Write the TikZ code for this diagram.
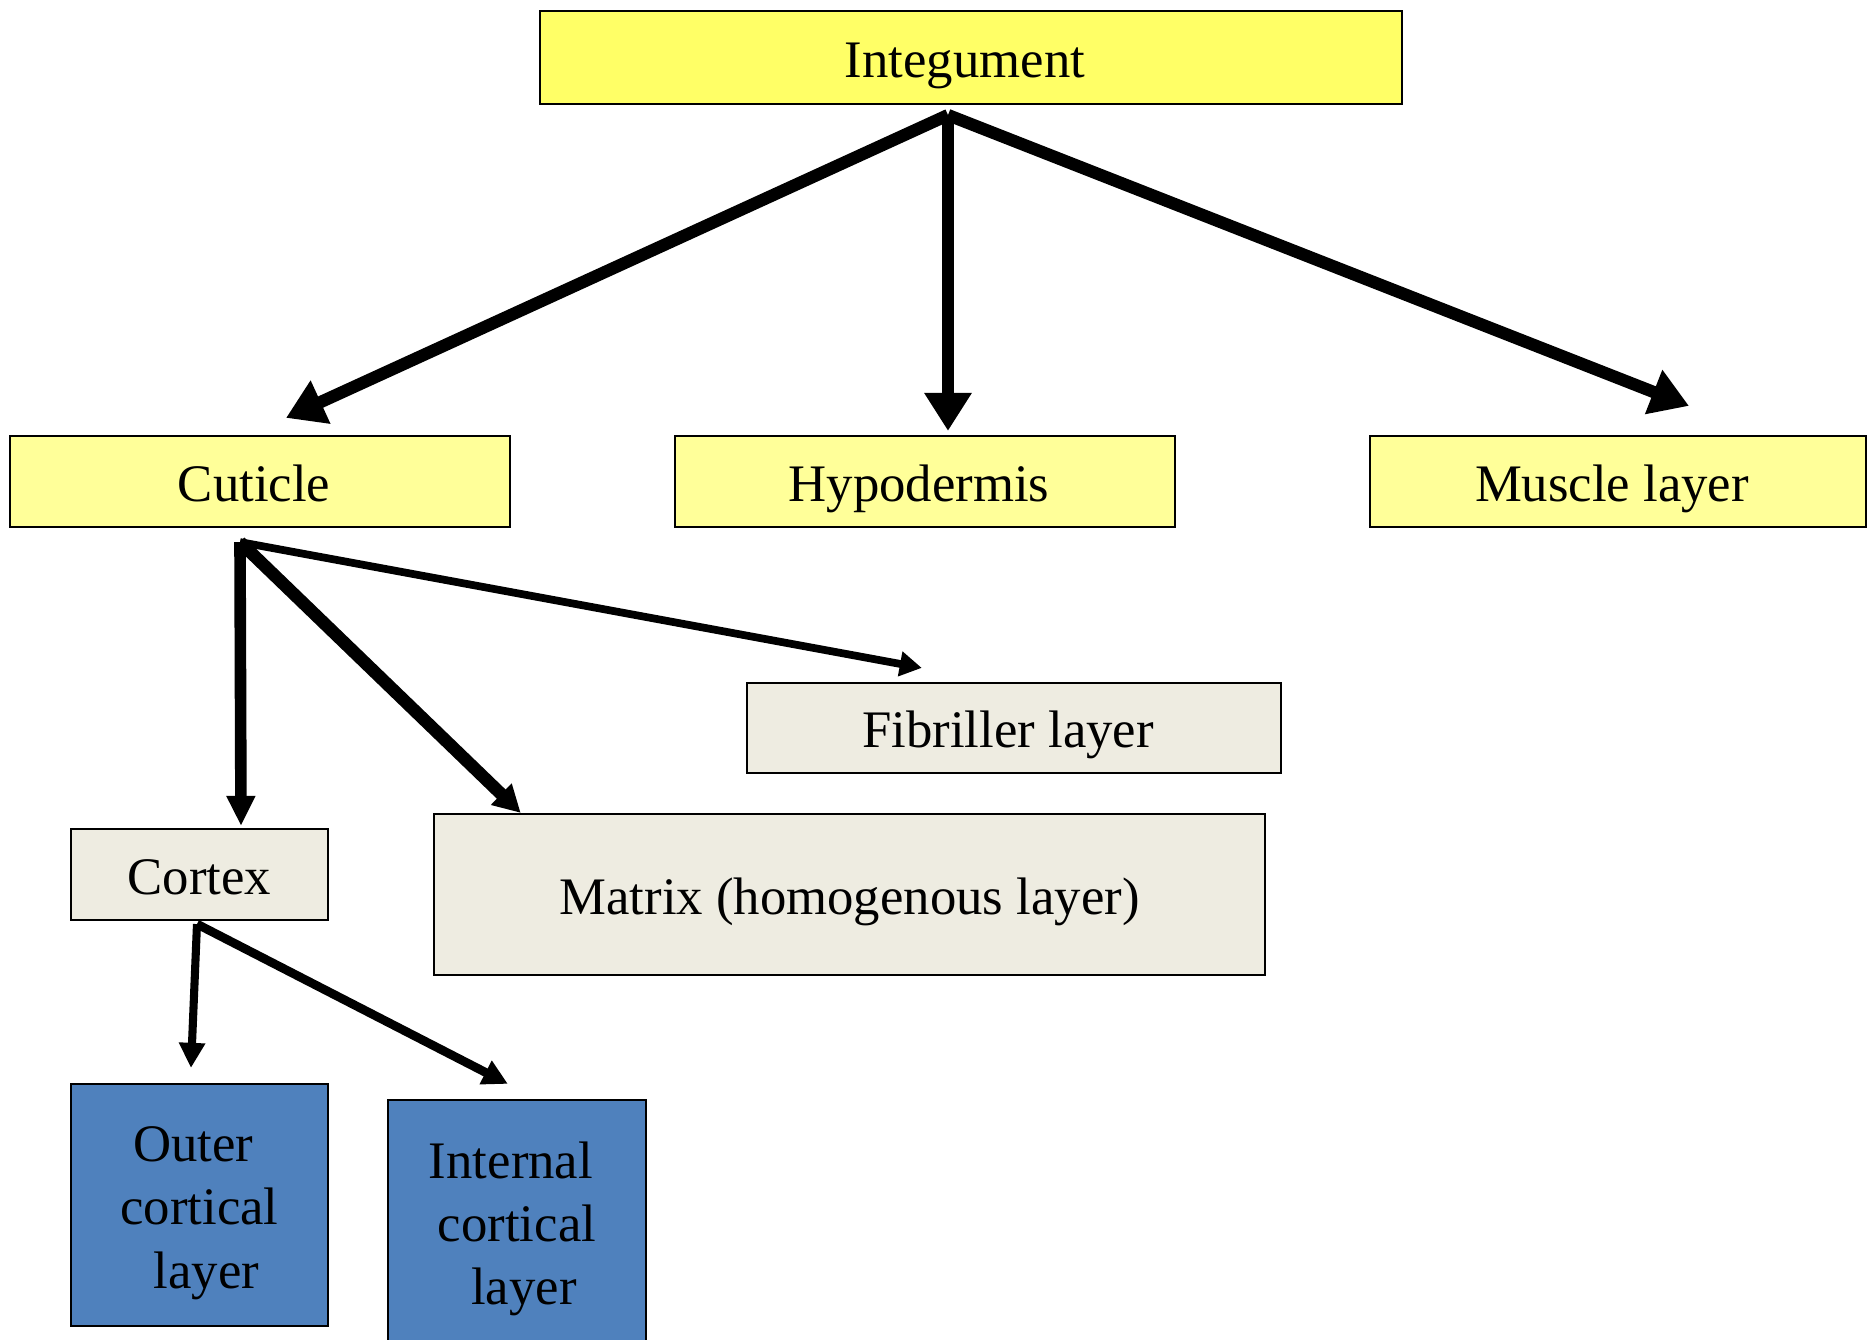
\documentclass[tikz,border=0pt]{standalone}
\usepackage{fontspec}
\setmainfont{Liberation Serif}
\usetikzlibrary{arrows.meta}

\definecolor{topyellow}{HTML}{FFFF66}
\definecolor{paleyellow}{HTML}{FFFF99}
\definecolor{beige}{HTML}{EEECE1}
\definecolor{steel}{HTML}{4F81BD}

\begin{document}
\begin{tikzpicture}[x=0.01cm,y=-0.01cm,
  box/.style={draw,line width=0.6pt,inner sep=0pt,font=\fontsize{15}{18}\selectfont},
  onebox/.style={box,text height=0.5cm,text depth=0.11cm},
  ybox/.style={onebox,fill=paleyellow,minimum height=0.91cm,execute at end node={\hspace*{0.12cm}}},
  gbox/.style={onebox,fill=beige},
  bbox/.style={box,align=center,fill=steel,minimum width=2.57cm},
  bigarrow/.style={line width=3.5pt,-{Triangle[length=0.38cm,width=0.45cm]}},
  smallarrow/.style={line width=2.3pt,-{Triangle[length=0.25cm,width=0.25cm]}}]
\clip (0,0) rectangle (1868,1340);

  \node[ybox,fill=topyellow,minimum width=8.62cm,minimum height=0.93cm] (int) at (971,57.5) {Integument};
 \node[ybox,minimum width=5cm] (cut) at (260,481.5) {Cuticle};
 \node[ybox,minimum width=5cm] (hyp) at (925,481.5) {Hypodermis};
 \node[ybox,minimum width=4.96cm] (mus) at (1618,481.5) {Muscle layer};
  \node[gbox,minimum width=5.34cm,minimum height=0.9cm,execute at end node={\hspace*{0.12cm}}] (fib) at (1014,728) {Fibriller layer};
  \node[gbox,minimum width=2.57cm,minimum height=0.91cm] (cor) at (199.5,874.5) {Cortex};
   \node[gbox,minimum width=8.31cm,minimum height=1.61cm] (mat) at (849.5,894.5) {Matrix (homogenous layer)};
 \node[bbox,minimum height=2.42cm] (out) at (199.5,1205) {\rule{0pt}{0.51cm}Outer\hspace*{0.12cm}\\cortical\\\hspace*{0.14cm}layer};
 \node[bbox,minimum width=2.58cm,minimum height=2.52cm] (inn) at (517,1226) {\rule{0pt}{0.42cm}Internal\hspace*{0.12cm}\\cortical\\\hspace*{0.14cm}layer};

 \coordinate (int-hub) at ([shift={(-23,10)}]int.south);
 \coordinate (cut-hub) at ([shift={(-20,14)}]cut.south);
 \coordinate (cor-hub) at ([shift={(-2.5,3)}]cor.south);

 \draw[bigarrow] (int-hub) -- ([shift={(26,-17)}]cut.north);
 \draw[bigarrow] (int-hub) -- ([shift={(23,-4)}]hyp.north);
 \draw[bigarrow] (int-hub) -- ([shift={(71,-29)}]mus.north);
\draw[line width=3.3pt,-{Triangle[length=0.3cm,width=0.27cm]}] (cut-hub) -- ([shift={(41.5,-2)}]cor.north);
\draw[line width=3.6pt,-{Triangle[length=0.27cm,width=0.28cm]}] (cut-hub) -- ([shift={(88,0)}]mat.north west);
\draw[line width=2.2pt,-{Triangle[length=0.22cm,width=0.24cm]}] (cut-hub) -- ([shift={(176,-14)}]fib.north west);
\draw[smallarrow] (cor-hub) -- ([shift={(-8.5,-15)}]out.north);
\draw[smallarrow,line width=2.5pt] (cor-hub) -- ([shift={(121,-15)}]inn.north west);

\end{tikzpicture}
\end{document}
